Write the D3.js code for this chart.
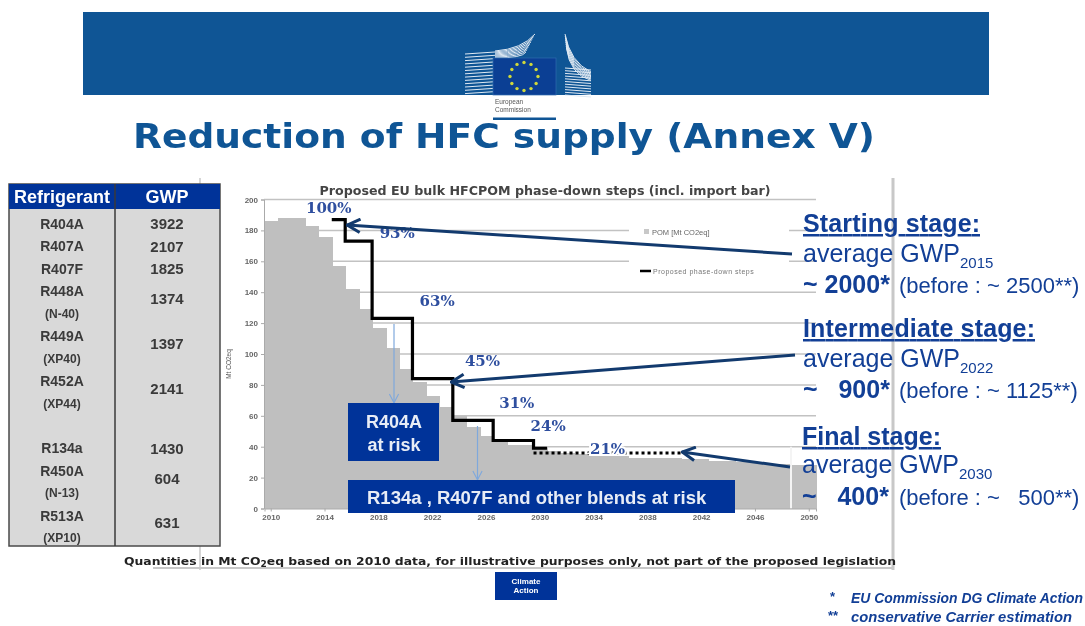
<!DOCTYPE html>
<html>
<head>
<meta charset="utf-8">
<title>Reduction of HFC supply (Annex V)</title>
<script src="https://cdn.jsdelivr.net/npm/d3@7"></script>
<style>
	html, body {margin:0; padding:0; background:#fff;}
	svg {display:block; filter:blur(0.5px);}
	text {font-family:"Liberation Sans", Arial, sans-serif;}
</style>
</head>
<body>
<div id="slide"></div>
<script>
//Chart data
var years = d3.range(2010,2051);
var pomValues = [186,188,188,183,176,157,142,129,117,104,90,82,73,66,60,53,47,43,41,41,40,37,36,35,35,34,34,33,33,33,33,32,32,31,31,30,30,29,29,28,28];
var stepYears = [2015,2016,2018,2021,2024,2027,2030,2031];
var stepValues = [187,173,123,84,57,44,39,39];
var dottedYears = [2030,2041];
var dottedValues = [36,36];
var pctLabels = ["100%","93%","63%","45%","31%","24%","21%"];
var pctYears = [2015,2016,2018,2021,2024,2027,2030];
var yTicks = d3.range(0,201,20);
var xTicks = d3.range(2010,2051,4);

//Table data
var refrigerants = ["R404A","R407A","R407F","R448A","R449A","R452A","R134a","R450A","R513A"];
var blendNames = ["","","","(N-40)","(XP40)","(XP44)","","(N-13)","(XP10)"];
var gwpValues = [3922,2107,1825,1374,1397,2141,1430,604,631];

//Stage notes
var stageTitles = ["Starting stage:","Intermediate stage:","Final stage:"];
var stageYears = ["2015","2022","2030"];
var stageAfter = ["~ 2000*","~   900*","~   400*"];
var stageBefore = ["(before : ~ 2500**)","(before : ~ 1125**)","(before : ~   500**)"];

//Global variables
var width = 1085;
var height = 626;
var darkBlue = "#0f5595";
var boxBlue = "#003399";
var noteBlue = "#123f96";
var pctBlue = "#2f4f9f";
var arrowBlue = "#123a6e";

var svg = d3.select("#slide").append("svg")
	.attr("width",width)
	.attr("height",height);

var defs = svg.append("defs");
function addArrowHead(id,color,size,weight) {
	defs.append("marker")
		.attr("id",id)
		.attr("viewBox","0 0 10 10")
		.attr("refX",9.2)
		.attr("refY",5)
		.attr("markerUnits","userSpaceOnUse")
		.attr("markerWidth",size)
		.attr("markerHeight",size)
		.attr("orient","auto")
		.append("path")
		.attr("d","M1,0.8 L9,5 L1,9.2")
		.attr("fill","none")
		.attr("stroke",color)
		.attr("stroke-width",weight);
}
addArrowHead("headDark",arrowBlue,16,1.9);
addArrowHead("headLight","#7fa8dc",11,1);

function drawHeader() {
	svg.append("rect").attr("x",83).attr("y",12).attr("width",906).attr("height",83).attr("fill",darkBlue);

	//Berlaymont stripes
	var logo = svg.append("g").attr("stroke","#dfe9f3").attr("fill","none").attr("stroke-width",1);
	d3.range(0,13).forEach(function(i) {
		var y = 54 + i*3.3;
		logo.append("path").attr("d","M465," + y + " L495," + (y-2));
	});
	d3.range(0,8).forEach(function(i) {
		logo.append("path").attr("d","M495," + (51+i*1) + " Q522," + (49+i*1.3) + " " + (535-i*1.3) + "," + (34+i*2.6));
		logo.append("path").attr("d","M" + (565+i*0.2) + "," + (34+i*2) + " Q570," + (62+i*1.8) + " 591," + (72+i*1.2));
	});
	d3.range(0,11).forEach(function(i) {
		var y = 68 + i*2.7;
		logo.append("path").attr("d","M565," + y + " L591," + (y+2));
	});

	svg.append("rect").attr("x",493).attr("y",58).attr("width",63).attr("height",37).attr("fill","#0b3f94").attr("stroke","#2f6bb0").attr("stroke-width",0.7);
	svg.append("g").selectAll("circle")
		.data(d3.range(12))
		.enter()
		.append("circle")
		.attr("cx",function(d) {return 524 + 14*Math.cos(d*Math.PI/6);})
		.attr("cy",function(d) {return 76.5 + 14*Math.sin(d*Math.PI/6);})
		.attr("r",1.7)
		.attr("fill","#cfd83a");

	svg.append("text").attr("x",495).attr("y",104).attr("font-size",6.5).attr("fill","#555").text("European");
	svg.append("text").attr("x",495).attr("y",112).attr("font-size",6.5).attr("fill","#555").text("Commission");
	svg.append("rect").attr("x",493).attr("y",117.5).attr("width",63).attr("height",2.5).attr("fill",darkBlue);

	svg.append("text")
		.attr("x",133).attr("y",148)
		.attr("font-size",33)
		.attr("font-weight","bold")
		.attr("fill",darkBlue)
		.style("font-family","'DejaVu Sans'")
		.attr("textLength",742)
		.attr("lengthAdjust","spacingAndGlyphs")
		.text("Reduction of HFC supply (Annex V)");
}

function drawFrame() {
	var frame = svg.append("g").attr("stroke","#c8c8c8").attr("fill","none");
	frame.append("line").attr("x1",200).attr("x2",200).attr("y1",178).attr("y2",570).attr("stroke-width",1.5);
	frame.append("line").attr("x1",893).attr("x2",893).attr("y1",178).attr("y2",570).attr("stroke-width",3);
	frame.append("line").attr("x1",153).attr("x2",893).attr("y1",568).attr("y2",568).attr("stroke-width",2);
}

function drawTable() {
	var left = 9, divider = 115, right = 220, top = 184, headBottom = 209, bottom = 546;
	svg.append("rect").attr("x",left).attr("y",top).attr("width",right-left).attr("height",bottom-top)
		.attr("fill","#d9d9d9").attr("stroke","#4a4a4a").attr("stroke-width",1.5);
	svg.append("rect").attr("x",left).attr("y",top).attr("width",right-left).attr("height",headBottom-top).attr("fill",boxBlue);
	svg.append("line").attr("x1",divider).attr("x2",divider).attr("y1",top).attr("y2",bottom).attr("stroke","#3a3a3a").attr("stroke-width",1.5);

	svg.append("text").attr("x",62).attr("y",203).attr("text-anchor","middle").attr("font-size",18).attr("font-weight","bold").attr("fill","#fff").text("Refrigerant");
	svg.append("text").attr("x",167).attr("y",203).attr("text-anchor","middle").attr("font-size",18).attr("font-weight","bold").attr("fill","#fff").text("GWP");

	//walk through the rows, a blend name takes a second line
	var lineY = d3.scaleLinear().domain([0,14]).range([224,538]);
	var line = 0;
	refrigerants.forEach(function(name,i) {
		if (name == "R134a") line++; //blank line in the table
		var nameY = lineY(line);
		var textColor = "#3a3a3a";
		svg.append("text").attr("x",62).attr("y",nameY).attr("dy","0.36em").attr("text-anchor","middle")
			.attr("font-size",14).attr("font-weight","bold").attr("fill",textColor).text(name);
		var gwpY = nameY;
		if (blendNames[i] != "") {
			line++;
			svg.append("text").attr("x",62).attr("y",lineY(line)).attr("dy","0.36em").attr("text-anchor","middle")
				.attr("font-size",12).attr("font-weight","bold").attr("fill",textColor).text(blendNames[i]);
			gwpY = nameY + (lineY(line)-nameY)/3;
		}
		svg.append("text").attr("x",167).attr("y",gwpY).attr("dy","0.36em").attr("text-anchor","middle")
			.attr("font-size",15).attr("font-weight","bold").attr("fill",textColor).text(gwpValues[i]);
		line++;
	});
}

function drawChart() {
	var xScale = d3.scaleBand()
		.domain(years)
		.range([264.5,816])
		.padding(0);

	var yScale = d3.scaleLinear()
		.domain([0,200])
		.range([508.5,199.5]);

	var chart = svg.append("g");

	//Grid lines, the legend sits on top of the two upper ones
	chart.selectAll(".grid")
		.data(yTicks.slice(1))
		.enter()
		.append("line")
		.attr("class","grid")
		.attr("x1",264)
		.attr("x2",816)
		.attr("y1",function(d) {return yScale(d);})
		.attr("y2",function(d) {return yScale(d);})
		.attr("stroke","#c2c2c2")
		.attr("stroke-width",1.5);
	chart.append("rect").attr("x",629).attr("y",222).attr("width",160).attr("height",50).attr("fill","#fff");

	//Draw bars
	chart.selectAll(".pom")
		.data(pomValues)
		.enter()
		.append("rect")
		.attr("class","pom")
		.attr("x",function(d,i) {return xScale(years[i]);})
		.attr("y",function(d) {return yScale(d);})
		.attr("width",xScale.bandwidth()+1)
		.attr("height",function(d) {return yScale(0)-yScale(d);})
		.attr("fill","#bfbfbf")
		.attr("shape-rendering","crispEdges");
	chart.append("line").attr("x1",791).attr("x2",791).attr("y1",yScale(40)).attr("y2",yScale(0)).attr("stroke","#f4f4f4").attr("stroke-width",2);

	//Add Y axis
	var yAxis = d3.axisLeft().scale(yScale).tickValues(yTicks).tickSize(3).tickPadding(3);
	var yG = chart.append("g").attr("transform","translate(264,0)").call(yAxis);

	//Add X axis
	var xAxis = d3.axisBottom().scale(xScale).tickValues(xTicks).tickSize(3).tickPadding(3);
	var xG = chart.append("g").attr("transform","translate(0,508.5)").call(xAxis);
	[yG,xG].forEach(function(g) {
		g.selectAll("path").attr("stroke","#aaa");
		g.selectAll("line").attr("stroke","#aaa");
		g.selectAll("text").attr("font-size",8).attr("font-weight","bold").attr("fill","#666");
	});

	chart.append("text")
		.attr("transform","translate(231,364) rotate(-90)")
		.attr("text-anchor","middle")
		.attr("font-size",6.5)
		.attr("fill","#555")
		.text("Mt CO2eq");

	chart.append("text")
		.attr("x",545).attr("y",195)
		.attr("text-anchor","middle")
		.attr("font-size",12.5)
		.attr("font-weight","bold")
		.attr("fill","#444")
		.style("font-family","'DejaVu Sans'")
		.attr("textLength",451)
		.attr("lengthAdjust","spacingAndGlyphs")
		.text("Proposed EU bulk HFCPOM phase-down steps (incl. import bar)");

	//Legend
	chart.append("rect").attr("x",644).attr("y",229).attr("width",5).attr("height",5).attr("fill","#c8c8c8");
	chart.append("text").attr("x",652).attr("y",235).attr("font-size",7.5).attr("fill","#666").text("POM  [Mt CO2eq]");
	chart.append("line").attr("x1",640).attr("x2",651).attr("y1",271).attr("y2",271).attr("stroke","#000").attr("stroke-width",2.5);
	chart.append("text").attr("x",653).attr("y",274).attr("font-size",7).attr("letter-spacing",0.5).attr("fill","#777").text("Proposed phase-down steps");

	//Step line
	var stepLine = d3.line()
		.x(function(d) {return xScale(d[0]);})
		.y(function(d) {return yScale(d[1]);})
		.curve(d3.curveStepAfter);
	chart.append("path")
		.attr("d",stepLine(d3.zip(stepYears,stepValues)))
		.attr("fill","none")
		.attr("stroke","#000")
		.attr("stroke-width",3.2);

	var flatLine = d3.line()
		.x(function(d) {return xScale(d[0]);})
		.y(function(d) {return yScale(d[1]);});

	//dotted line goes first, the 21% label sits on it
	chart.append("path")
		.attr("d",flatLine(d3.zip(dottedYears,dottedValues)))
		.attr("fill","none")
		.attr("stroke","#000")
		.attr("stroke-width",3)
		.attr("stroke-dasharray","3,3");

	//Percent labels, placed relative to their step
	var pctDx = [-3,52,65,70,64,55,74];
	var pctDy = [-12,-9,-18,-18,-18,-15,0];
	chart.selectAll(".pct")
		.data(pctLabels)
		.enter()
		.append("text")
		.attr("class","pct")
		.attr("x",function(d,i) {return xScale(pctYears[i])+pctDx[i];})
		.attr("y",function(d,i) {return yScale(stepValues[i])+pctDy[i];})
		.attr("dy","0.36em")
		.attr("text-anchor","middle")
		.attr("font-size",15)
		.attr("font-weight","bold")
		.attr("fill",pctBlue)
		.style("font-family","'DejaVu Serif'")
		.style("paint-order","stroke")
		.attr("stroke",function(d) {return d == "21%" ? "#fff" : "none";})
		.attr("stroke-width",4)
		.text(function(d) {return d;});

	//Risk boxes
	svg.append("line").attr("x1",394).attr("x2",394).attr("y1",324).attr("y2",403).attr("stroke","#7fa8dc").attr("stroke-width",1.2).attr("marker-end","url(#headLight)");
	svg.append("line").attr("x1",477.5).attr("x2",477.5).attr("y1",426).attr("y2",480).attr("stroke","#7fa8dc").attr("stroke-width",1.2).attr("marker-end","url(#headLight)");

	svg.append("rect").attr("x",348).attr("y",403).attr("width",91).attr("height",58).attr("fill",boxBlue);
	svg.append("text").attr("x",394).attr("y",428).attr("text-anchor","middle").attr("font-size",18).attr("font-weight","bold").attr("fill","#e8edf6").text("R404A");
	svg.append("text").attr("x",394).attr("y",451).attr("text-anchor","middle").attr("font-size",18).attr("font-weight","bold").attr("fill","#e8edf6").text("at risk");

	svg.append("rect").attr("x",348).attr("y",480).attr("width",387).attr("height",33).attr("fill",boxBlue);
	svg.append("text").attr("x",367).attr("y",504).attr("font-size",18.5).attr("font-weight","bold").attr("fill","#e8edf6").text("R134a , R407F and other blends at risk");
}

function drawNotes() {
	var titleY = [232,337,445];
	var avgY = [262,367,473];
	var valueY = [293,398,505];
	var noteX = [803,803,802];

	//Arrows from the notes to the chart
	var arrows = [[792,254,347,225],[795,355,451,382],[790,467,682,452]];
	svg.selectAll(".stageArrow")
		.data(arrows)
		.enter()
		.append("line")
		.attr("class","stageArrow")
		.attr("x1",function(d) {return d[0];})
		.attr("y1",function(d) {return d[1];})
		.attr("x2",function(d) {return d[2];})
		.attr("y2",function(d) {return d[3];})
		.attr("stroke",arrowBlue)
		.attr("stroke-width",3)
		.attr("marker-end","url(#headDark)");

	stageTitles.forEach(function(title,i) {
		svg.append("text").attr("x",noteX[i]).attr("y",titleY[i])
			.attr("font-size",25).attr("font-weight","bold").attr("fill",noteBlue)
			.attr("textLength",i == 0 ? 177 : (i == 1 ? 232 : 139))
			.attr("text-decoration","underline").text(title);

		var avg = svg.append("text").attr("x",noteX[i]).attr("y",avgY[i]).attr("font-size",25).attr("fill",noteBlue);
		avg.append("tspan").text("average GWP");
		avg.append("tspan").attr("dy",6).attr("font-size",15).text(stageYears[i]);

		svg.append("text").attr("x",noteX[i]).attr("y",valueY[i]).attr("font-size",25).attr("font-weight","bold")
			.attr("fill",noteBlue).style("white-space","pre").text(stageAfter[i]);
		svg.append("text").attr("x",899).attr("y",valueY[i]).attr("font-size",22)
			.attr("fill",noteBlue).style("white-space","pre").text(stageBefore[i]);
	});
}

function drawFooter() {
	svg.append("text")
		.attr("x",124).attr("y",565)
		.attr("font-size",11)
		.attr("font-weight","bold")
		.attr("fill","#222")
		.style("font-family","'DejaVu Sans'")
		.attr("textLength",772)
		.attr("lengthAdjust","spacingAndGlyphs")
		.html('Quantities in Mt CO<tspan dy="2" font-size="8">2</tspan><tspan dy="-2">eq based on 2010 data, for illustrative purposes only, not part of the proposed legislation</tspan>');

	svg.append("rect").attr("x",495).attr("y",572).attr("width",62).attr("height",28).attr("fill",boxBlue);
	svg.append("text").attr("x",526).attr("y",584).attr("text-anchor","middle").attr("font-size",8).attr("font-weight","bold").attr("fill","#fff").text("Climate");
	svg.append("text").attr("x",526).attr("y",593).attr("text-anchor","middle").attr("font-size",8).attr("font-weight","bold").attr("fill","#fff").text("Action");

	svg.append("text").attr("x",830).attr("y",601).attr("font-size",13).attr("font-weight","bold").attr("fill",noteBlue).text("*");
	svg.append("text").attr("x",851).attr("y",603).attr("font-size",14).attr("font-style","italic").attr("font-weight","bold").attr("fill",noteBlue).attr("textLength",232).attr("lengthAdjust","spacingAndGlyphs").text("EU Commission DG Climate Action");
	svg.append("text").attr("x",828).attr("y",620).attr("font-size",13).attr("font-weight","bold").attr("fill",noteBlue).text("**");
	svg.append("text").attr("x",851).attr("y",622).attr("font-size",14).attr("font-style","italic").attr("font-weight","bold").attr("fill",noteBlue).attr("textLength",221).attr("lengthAdjust","spacingAndGlyphs").text("conservative Carrier estimation");
}

//Invoke functions
drawHeader();
drawFrame();
drawTable();
drawChart();
drawNotes();
drawFooter();
</script>
</body>
</html>
